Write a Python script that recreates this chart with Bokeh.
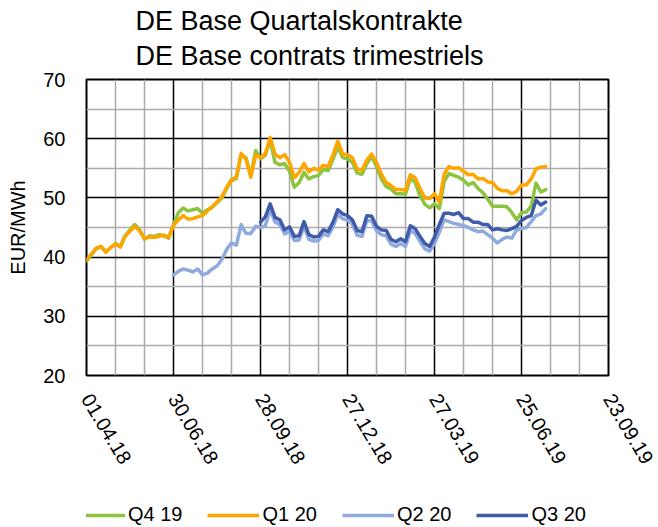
import pandas as pd
from bokeh.plotting import figure
from bokeh.layouts import column
from bokeh.models import (ColumnDataSource, Range1d, FixedTicker, DatetimeTickFormatter,
                          Legend, LegendItem, Title)
from bokeh.embed import file_html
from bokeh.resources import INLINE

nan = float("nan")

# ---- data (one value every 5 days from 01.04.2018) ----
dates = pd.date_range("2018-04-01", periods=96, freq="5D")

q4_19 = [39.3, 40.4, 41.4, 41.8, 40.9, 41.6, 42.3, 41.8, 43.6, 44.6,
         45.5, 44.6, 43.0, 43.6, 43.5, 43.8, 43.6, 43.2, 45.5, 47.5,
         48.3, 47.8, 48.0, 48.2, 47.4, 48.0, 48.4, 49.2, 50.0, 51.6,
         52.9, 53.3, 57.3, 56.8, 53.8, 58.0, 56.6, 57.2, 59.8, 56.0,
         55.6, 55.8, 54.5, 51.8, 52.6, 54.3, 53.2, 53.6, 53.8, 54.8,
         54.6, 56.5, 58.6, 56.8, 56.6, 56.0, 54.2, 54.0, 55.8, 57.0,
         55.3, 53.2, 51.9, 51.5, 50.7, 50.7, 50.6, 53.3, 52.6, 50.4,
         48.9, 48.3, 49.0, 48.2, 52.8, 54.1, 53.8, 53.5, 53.0, 52.2,
         52.6, 51.6, 50.9, 49.8, 48.6, 48.6, 48.6, 48.5, 47.5, 46.3,
         47.5, 47.6, 48.6, 52.5, 51.0, 51.4]

q1_20 = [39.5, 40.5, 41.5, 41.8, 40.8, 41.6, 42.2, 41.7, 43.5, 44.4,
         45.2, 44.4, 43.2, 43.4, 43.3, 43.5, 43.7, 43.4, 45.3, 46.3,
         47.0, 46.4, 46.5, 46.8, 47.0, 47.8, 48.5, 49.3, 50.2, 51.8,
         53.1, 53.5, 57.5, 56.5, 53.5, 57.2, 56.8, 57.5, 60.2, 57.4,
         56.8, 57.3, 56.0, 53.4, 54.3, 55.8, 54.4, 55.0, 54.7, 55.5,
         55.3, 57.3, 59.6, 57.4, 57.3, 56.8, 54.9, 54.7, 56.4, 57.4,
         56.0, 54.0, 52.6, 52.1, 51.4, 51.4, 51.3, 53.9, 53.4, 51.6,
         50.0, 49.9, 50.7, 49.3, 54.0, 55.3, 55.0, 55.1, 54.5, 53.9,
         54.0, 53.2, 53.3, 52.7, 52.6, 51.6, 51.2, 51.2, 50.7, 51.1,
         52.2, 52.2, 53.2, 54.9, 55.2, 55.3]

q2_20 = [nan] * 18 + [
         37.0, 37.6,
         38.0, 37.8, 37.5, 38.0, 37.0, 37.3, 38.0, 38.5, 39.6, 41.3,
         42.4, 42.0, 45.5, 44.0, 44.0, 45.2, 45.0, 45.3, 48.0, 45.9,
         45.5, 43.9, 44.3, 42.8, 42.9, 45.2, 43.0, 42.7, 42.8, 43.9,
         43.6, 45.1, 47.2, 46.5, 46.2, 45.6, 43.7, 43.5, 46.2, 46.1,
         44.4, 43.8, 43.6, 42.2, 41.8, 42.3, 41.8, 44.5, 44.0, 42.6,
         41.4, 41.0, 42.3, 44.2, 46.3, 46.0, 45.7, 45.5, 45.3, 45.0,
         44.6, 44.3, 44.4, 43.8, 43.2, 42.4, 43.0, 43.4, 43.2, 44.6,
         44.8, 45.0, 46.0, 47.0, 47.3, 48.2]

q3_20 = [nan] * 36 + [
         45.9, 46.8, 49.0, 46.7,
         46.3, 44.6, 45.1, 43.5, 43.6, 46.0, 43.8, 43.4, 43.5, 44.6,
         44.3, 45.9, 48.0, 47.3, 47.0, 46.3, 44.5, 44.3, 47.0, 46.9,
         45.2, 44.6, 44.5, 43.0, 42.6, 43.1, 42.6, 45.3, 44.8, 43.5,
         42.3, 41.8, 43.4, 45.5, 47.4, 47.4, 47.2, 47.5, 46.5, 46.5,
         45.9, 45.9, 45.5, 45.5, 44.6, 44.8, 44.6, 44.5, 44.8, 45.2,
         46.2, 46.7, 47.0, 49.6, 48.8, 49.3]

series_cols = ["q4_19", "q1_20", "q2_20", "q3_20"]
series_names = ["Q4 19", "Q1 20", "Q2 20", "Q3 20"]
x_tick_labels = ["01.04.18", "30.06.18", "28.09.18", "27.12.18", "27.03.19", "25.06.19", "23.09.19"]
y_ticks = [20, 30, 40, 50, 60, 70]
title_lines = ["DE Base Quartalskontrakte", "DE Base contrats trimestriels"]
y_label = "EUR/MWh"

# ---- styles ----
colors = ["#8CC43F", "#FFA500", "#8FAADC", "#3F5BA9"]
FONT = "Liberation Sans"
LW = 3.5

source = ColumnDataSource(dict(date=dates, q4_19=q4_19, q1_20=q1_20, q2_20=q2_20, q3_20=q3_20))

tick_dates = pd.to_datetime(x_tick_labels, format="%d.%m.%y")
major_ms = [t.timestamp() * 1000 for t in tick_dates]
minor_ms = []
for a, b in zip(major_ms[:-1], major_ms[1:]):
    minor_ms += [a + (b - a) / 3, a + 2 * (b - a) / 3]
y_minor = [(a + b) / 2 for a, b in zip(y_ticks[:-1], y_ticks[1:])]

p = figure(width=658, height=497, x_axis_type="datetime",
           output_backend="svg", toolbar_location=None,
           x_range=Range1d(tick_dates[0], tick_dates[-1]),
           y_range=Range1d(y_ticks[0], y_ticks[-1]),
           min_border_left=86, min_border_right=50,
           min_border_top=79, min_border_bottom=122)
p.background_fill_color = "white"
p.border_fill_color = "white"
p.outline_line_color = "black"
p.outline_line_width = 2

for col, c in zip(series_cols, colors):
    p.line("date", col, source=source, line_color=c, line_width=LW,
           line_join="round", line_cap="round")

# grids
p.xgrid.ticker = FixedTicker(ticks=major_ms, minor_ticks=minor_ms)
p.ygrid.ticker = FixedTicker(ticks=y_ticks, minor_ticks=y_minor)
for g in (p.xgrid, p.ygrid):
    g.grid_line_color = "black"
    g.grid_line_width = 1.5
    g.minor_grid_line_color = "#ABABAB"
    g.minor_grid_line_width = 1.5

# axes
xa = p.xaxis[0]
xa.ticker = FixedTicker(ticks=major_ms)
fmt = "%d.%m.%y"
xa.formatter = DatetimeTickFormatter(milliseconds=fmt, seconds=fmt, minsec=fmt, minutes=fmt,
                                     hourmin=fmt, hours=fmt, days=fmt, months=fmt, years=fmt)
xa.major_label_orientation = -1.03
xa.major_label_standoff = 20
ya = p.yaxis[0]
ya.ticker = FixedTicker(ticks=y_ticks)
ya.major_label_standoff = 21
ya.axis_label = y_label
ya.axis_label_standoff = 11
ya.axis_label_text_font = FONT
ya.axis_label_text_font_size = "20px"
ya.axis_label_text_font_style = "normal"
ya.axis_label_text_color = "black"
for ax in (xa, ya):
    ax.axis_line_color = None
    ax.major_tick_line_color = None
    ax.minor_tick_line_color = None
    ax.major_tick_out = 0
    ax.major_tick_in = 0
    ax.minor_tick_out = 0
    ax.minor_tick_in = 0
    ax.major_label_text_font = FONT
    ax.major_label_text_font_size = "20px"
    ax.major_label_text_color = "black"

# title (two lines): the one added last is outermost
for txt, so in [(title_lines[1], 17), (title_lines[0], -10)]:
    p.add_layout(Title(text=txt, text_font=FONT, text_font_size="27px", text_font_style="normal",
                       text_color="black", align="left", offset=49, standoff=so), "above")

# ---- legend strip below the chart (series drawn off-view, only their legend glyphs show) ----
lg = figure(width=658, height=30, output_backend="svg", toolbar_location=None,
            x_range=Range1d(0, 1), y_range=Range1d(0, 1),
            min_border_left=0, min_border_right=0, min_border_top=0, min_border_bottom=0)
lg.axis.visible = False
lg.grid.visible = False
lg.outline_line_color = None
lg.background_fill_color = "white"
lg.border_fill_color = "white"
items = []
for col, n, c in zip(series_cols, series_names, colors):
    r = lg.line("date", col, source=source, line_color=c, line_width=LW)
    items.append(LegendItem(label=n, renderers=[r]))
legend = Legend(items=items, orientation="horizontal", location=(-13, 1),
                glyph_width=52, glyph_height=20, label_standoff=3, spacing=25,
                padding=0, margin=0, border_line_color=None, background_fill_alpha=0,
                label_text_font=FONT, label_text_font_size="20px", label_text_color="black")
lg.add_layout(legend)

layout = column(p, lg, spacing=0)
open("out.html", "w").write(file_html(layout, INLINE))
